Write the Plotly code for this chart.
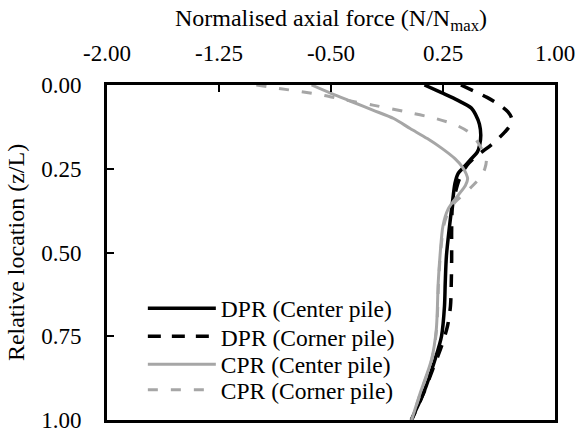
import plotly.graph_objects as go

# Axial force profiles along the pile, normalised by the maximum force
x_ticks = [-2.00, -1.25, -0.50, 0.25, 1.00]
y_ticks = [0.00, 0.25, 0.50, 0.75, 1.00]

dpr_center_z = [0.0, 0.023, 0.046, 0.069, 0.09, 0.117, 0.15, 0.18, 0.20, 0.22, 0.24, 0.265,
                0.294, 0.34, 0.42, 0.51, 0.59, 0.66, 0.75, 0.82, 0.92, 1.0]
dpr_center_n = [0.126, 0.24, 0.35, 0.44, 0.47, 0.494, 0.503, 0.495, 0.48, 0.44, 0.40, 0.35,
                0.33, 0.316, 0.294, 0.273, 0.265, 0.26, 0.24, 0.196, 0.119, 0.037]

dpr_corner_z = [0.0, 0.037, 0.058, 0.08, 0.10, 0.12, 0.14, 0.167, 0.19, 0.21, 0.24, 0.28,
                0.36, 0.43, 0.52, 0.60, 0.66, 0.72, 0.78, 0.85, 0.92, 1.0]
dpr_corner_n = [0.37, 0.545, 0.624, 0.685, 0.71, 0.70, 0.665, 0.604, 0.54, 0.479, 0.41, 0.36,
                0.314, 0.308, 0.308, 0.305, 0.30, 0.28, 0.24, 0.18, 0.12, 0.04]

cpr_center_z = [0.0, 0.025, 0.05, 0.075, 0.10, 0.13, 0.16, 0.19, 0.22, 0.245, 0.265, 0.28,
                0.30, 0.33, 0.37, 0.42, 0.51, 0.59, 0.73, 0.82, 0.92, 1.0]
cpr_center_n = [-0.63, -0.5, -0.36, -0.22, -0.08, 0.03, 0.145, 0.245, 0.33, 0.38, 0.405, 0.415,
                0.40, 0.35, 0.285, 0.25, 0.23, 0.218, 0.205, 0.173, 0.097, 0.04]

cpr_corner_z = [0.0, 0.01, 0.02, 0.03, 0.045, 0.06, 0.08, 0.10, 0.12, 0.14, 0.16, 0.18,
                0.22, 0.25, 0.275, 0.30, 0.33, 0.35, 0.38, 0.42, 0.51, 0.59, 0.73, 0.82, 0.92, 1.0]
cpr_corner_n = [-1.0, -0.85, -0.7, -0.56, -0.4, -0.22, 0.0, 0.2, 0.34, 0.42, 0.465, 0.495,
                0.54, 0.53, 0.50, 0.45, 0.38, 0.33, 0.285, 0.255, 0.232, 0.22, 0.207, 0.175, 0.099, 0.04]

BLACK = "#000000"
GREY = "#A6A6A6"
FONT = "Liberation Serif, Times New Roman, serif"

series = [
    ("DPR (Center pile)", dpr_center_n, dpr_center_z, BLACK, "solid", 3.5),
    ("DPR (Corner pile)", dpr_corner_n, dpr_corner_z, BLACK, "13px,11px", 3.5),
    ("CPR (Center pile)", cpr_center_n, cpr_center_z, GREY, "solid", 3),
    ("CPR (Corner pile)", cpr_corner_n, cpr_corner_z, GREY, "10px,13px", 3),
]

# one single-entry legend per series, stacked down the lower-left corner
legend_ids = ["legend", "legend2", "legend3", "legend4"]
legend_rows = [0.333, 0.249, 0.166, 0.090]

fig = go.Figure()
for (name, n, z, color, dash, width), lid in zip(series, legend_ids):
    fig.add_trace(go.Scatter(
        x=n, y=z, mode="lines", name=name, legend=lid, showlegend=True,
        line=dict(color=color, dash=dash, width=width, shape="spline", smoothing=0.8),
    ))

legend_style = dict(
    xanchor="left", yanchor="middle", bgcolor="rgba(0,0,0,0)",
    itemwidth=68, tracegroupgap=0,
    font=dict(family=FONT, size=23.5, color="black"),
)
fig.update_layout(
    width=587, height=445,
    margin=dict(l=107, r=25, t=85, b=13),
    plot_bgcolor="white", paper_bgcolor="white",
    font=dict(family=FONT, size=23, color="black"),
    showlegend=True,
    **{lid: dict(x=0.08, y=row, **legend_style) for lid, row in zip(legend_ids, legend_rows)},
)

fig.update_xaxes(
    side="top", range=[-2, 1],
    tickvals=x_ticks, ticktext=[f"{v:.2f}" for v in x_ticks],
    ticks="inside", ticklen=7, tickwidth=2, tickcolor=BLACK,
    showline=True, linewidth=3, linecolor=BLACK, mirror=True,
    showgrid=False, zeroline=False, ticklabelstandoff=12,
    title=dict(text="Normalised axial force (N/N<sub>max</sub>)", standoff=8,
               font=dict(family=FONT, size=24)),
)
fig.update_yaxes(
    range=[1, 0],
    tickvals=y_ticks, ticktext=[f"{v:.2f}" for v in y_ticks],
    ticks="inside", ticklen=7, tickwidth=2, tickcolor=BLACK,
    showline=True, linewidth=3, linecolor=BLACK, mirror=True,
    showgrid=False, zeroline=False, ticklabelstandoff=18,
    title=dict(text="Relative location (z/L)", standoff=10,
               font=dict(family=FONT, size=24)),
)

fig.write_html("out.html")
